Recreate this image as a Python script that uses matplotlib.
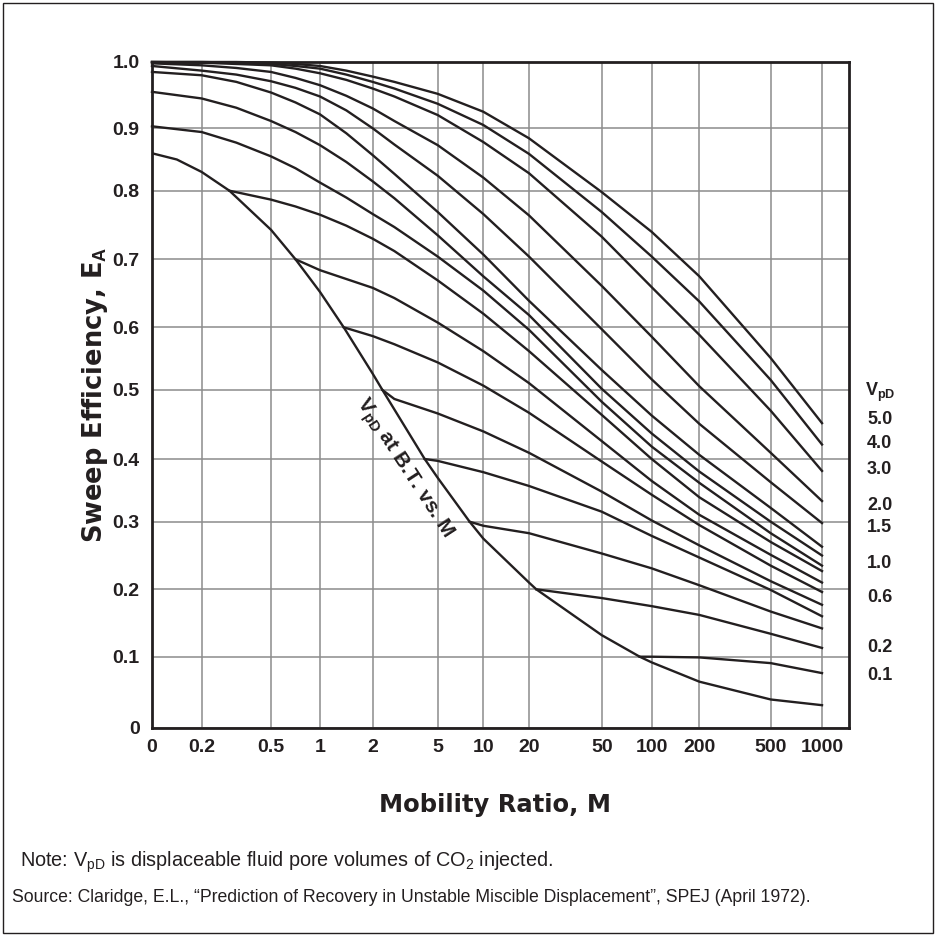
import numpy as np
import matplotlib
matplotlib.use('Agg')
import matplotlib.pyplot as plt
from matplotlib.patches import Rectangle
from matplotlib.ticker import NullLocator

plt.rcParams['font.family'] = 'Liberation Sans'
plt.rcParams['mathtext.fontset'] = 'custom'
plt.rcParams['mathtext.rm'] = 'Liberation Sans'
plt.rcParams['mathtext.bf'] = 'Liberation Sans:bold'
plt.rcParams['mathtext.it'] = 'Liberation Sans:italic'

# grid values and labels
m_ticks = [0, 0.2, 0.5, 1, 2, 5, 10, 20, 50, 100, 200, 500, 1000]
m_labels = ['0', '0.2', '0.5', '1', '2', '5', '10', '20', '50', '100', '200', '500', '1000']
e_ticks = [0, 0.1, 0.2, 0.3, 0.4, 0.5, 0.6, 0.7, 0.8, 0.9, 1.0]
e_labels = ['0', '0.1', '0.2', '0.3', '0.4', '0.5', '0.6', '0.7', '0.8', '0.9', '1.0']

# curves that start at M = 0
m_full = [0, 0.2, 0.35, 0.5, 0.75, 1, 1.5, 2, 3, 5, 10, 20, 50, 100, 200, 500, 1000]
e_50 = [1.000, 1.000, 1.000, 0.999, 0.997, 0.994, 0.987, 0.978, 0.970, 0.952, 0.925, 0.884, 0.798, 0.740, 0.675, 0.551, 0.452]
e_40 = [1.000, 1.000, 0.999, 0.997, 0.994, 0.990, 0.981, 0.970, 0.960, 0.937, 0.905, 0.859, 0.769, 0.704, 0.638, 0.516, 0.421]
e_30 = [1.000, 0.999, 0.997, 0.995, 0.990, 0.983, 0.973, 0.960, 0.948, 0.920, 0.878, 0.828, 0.733, 0.659, 0.588, 0.470, 0.381]
e_20 = [0.998, 0.995, 0.991, 0.985, 0.976, 0.965, 0.949, 0.930, 0.911, 0.873, 0.821, 0.764, 0.661, 0.585, 0.506, 0.409, 0.333]
e_15 = [0.994, 0.987, 0.981, 0.971, 0.961, 0.948, 0.927, 0.900, 0.874, 0.824, 0.766, 0.704, 0.597, 0.517, 0.451, 0.363, 0.298]
e_12 = [0.985, 0.980, 0.970, 0.954, 0.939, 0.921, 0.892, 0.857, 0.827, 0.769, 0.707, 0.639, 0.532, 0.463, 0.406, 0.322, 0.263]
e_10 = [0.955, 0.945, 0.931, 0.911, 0.894, 0.873, 0.846, 0.815, 0.789, 0.735, 0.675, 0.618, 0.502, 0.437, 0.380, 0.300, 0.250]
e_09 = [0.903, 0.894, 0.877, 0.855, 0.836, 0.813, 0.790, 0.766, 0.747, 0.704, 0.654, 0.596, 0.483, 0.418, 0.362, 0.283, 0.235]

# curves that branch off the breakthrough line (first point = breakthrough)
m_08 = [0.32, 0.5, 0.75, 1, 1.5, 2, 3, 5, 10, 20, 50, 100, 200, 500, 1000]
e_08 = [0.800, 0.787, 0.777, 0.765, 0.749, 0.730, 0.712, 0.669, 0.620, 0.562, 0.464, 0.400, 0.339, 0.270, 0.227]
m_07 = [0.75, 1, 1.5, 2, 3, 5, 10, 20, 50, 100, 200, 500, 1000]
e_07 = [0.700, 0.684, 0.671, 0.658, 0.643, 0.607, 0.562, 0.511, 0.426, 0.365, 0.311, 0.251, 0.210]
m_06 = [1.45, 2, 3, 5, 10, 20, 50, 100, 200, 500, 1000]
e_06 = [0.600, 0.586, 0.573, 0.544, 0.507, 0.467, 0.396, 0.343, 0.295, 0.235, 0.196]
m_05 = [2.45, 3, 5, 10, 20, 50, 100, 200, 500, 1000]
e_05 = [0.500, 0.487, 0.466, 0.440, 0.409, 0.348, 0.302, 0.265, 0.212, 0.177]
m_04 = [4.4, 5, 10, 20, 50, 100, 200, 500, 1000]
e_04 = [0.400, 0.397, 0.379, 0.357, 0.316, 0.279, 0.247, 0.199, 0.160]
m_03 = [8.5, 10, 20, 50, 100, 200, 500, 1000]
e_03 = [0.300, 0.294, 0.283, 0.253, 0.231, 0.206, 0.167, 0.142]
m_02 = [23, 50, 100, 200, 500, 1000]
e_02 = [0.200, 0.187, 0.175, 0.162, 0.134, 0.113]
m_01 = [88, 100, 200, 500, 1000]
e_01 = [0.100, 0.100, 0.099, 0.091, 0.077]

# V_pD at breakthrough vs M
m_bt = [0, 0.1, 0.2, 0.32, 0.5, 0.75, 1, 1.45, 2, 2.45, 4.4, 5, 8.5, 10, 20, 23, 50, 88, 100, 200, 500, 1000]
e_bt = [0.860, 0.850, 0.830, 0.800, 0.743, 0.700, 0.652, 0.600, 0.526, 0.500, 0.400, 0.370, 0.300, 0.275,
        0.210, 0.200, 0.132, 0.100, 0.092, 0.065, 0.040, 0.032]

right_labels = ['5.0', '4.0', '3.0', '2.0', '1.5', '1.0', '0.6', '0.2', '0.1']

full_curves = [e_50, e_40, e_30, e_20, e_15, e_12, e_10, e_09]
branch_curves = [(m_08, e_08), (m_07, e_07), (m_06, e_06), (m_05, e_05),
                 (m_04, e_04), (m_03, e_03), (m_02, e_02), (m_01, e_01)]

# the hand drawn grid is uneven: pixel offset of each grid line from the axes origin
grid_px_x = [0, 49.7, 119, 168, 220.7, 285.7, 331.3, 377, 449.7, 499.7, 547.3, 618.7, 670]
grid_px_y = [0, 71.3, 138.7, 206.3, 269, 338, 400.7, 468.7, 537.3, 599.7, 666]
scale_m = m_ticks + [1450]
scale_px = grid_px_x + [697]
# vertical pixel position of the right-hand labels
label_px = [420, 443, 469, 505, 528, 563, 598, 648, 675]


def xfwd(m):
    return np.interp(m, scale_m, scale_px)


def xinv(p):
    return np.interp(p, scale_px, scale_m)


def yfwd(e):
    return np.interp(e, e_ticks, grid_px_y)


def yinv(p):
    return np.interp(p, grid_px_y, e_ticks)


ink = '#231f20'
fig = plt.figure(figsize=(9.36, 9.36), dpi=100)
ax = fig.add_axes([152 / 936, 1 - 728 / 936, 697 / 936, 666 / 936])
ax.set_xscale('function', functions=(xfwd, xinv))
ax.set_yscale('function', functions=(yfwd, yinv))
ax.set_xlim(0, 1450)
ax.set_ylim(0, 1.0)

ax.set_xticks(m_ticks)
ax.set_xticklabels(m_labels, fontweight='bold')
ax.set_yticks(e_ticks)
ax.set_yticklabels(e_labels, fontweight='bold')
ax.xaxis.set_minor_locator(NullLocator())
ax.yaxis.set_minor_locator(NullLocator())
ax.tick_params(length=0, labelsize=14, colors=ink)
ax.tick_params(axis='x', pad=8)
ax.tick_params(axis='y', pad=9)
ax.grid(True, color='#8c8c8c', linewidth=1.1)
ax.set_axisbelow(True)
for s in ax.spines.values():
    s.set_linewidth(2.0)
    s.set_color(ink)
    s.set_zorder(5)

lw = 1.7
for e in full_curves:
    ax.plot(m_full, e, color=ink, lw=lw, zorder=3, clip_on=False)
for m, e in branch_curves:
    ax.plot(m, e, color=ink, lw=lw, zorder=3)
ax.plot(m_bt, e_bt, color=ink, lw=lw, zorder=3)

# right-hand V_pD labels
ax.text(713 / 697, (728 - 392) / 666, r'V$_{\mathbf{pD}}$', transform=ax.transAxes, fontsize=13,
        fontweight='bold', ha='left', va='center', color=ink)
for lab, y in zip(right_labels, label_px):
    ax.text(715 / 697, (728 - y) / 666, lab, transform=ax.transAxes, fontsize=13,
            fontweight='bold', ha='left', va='center', color=ink)

# label along the breakthrough line
ax.text((403 - 152) / 697, (728 - 468) / 666, r'V$_{\mathbf{pD}}$ at B.T. vs. M', transform=ax.transAxes,
        fontsize=15, fontweight='bold', rotation=-57, rotation_mode='anchor',
        ha='center', va='center', color=ink)

ax.set_ylabel(r'Sweep Efficiency, E$_{\mathbf{A}}$', fontsize=18.5, fontweight='bold',
              family='DejaVu Sans', color=ink)
ax.yaxis.set_label_coords(-0.082, 0.5)
ax.yaxis.label.set_va('center')
ax.set_xlabel('Mobility Ratio, M', fontsize=17.5, fontweight='bold', family='DejaVu Sans', color=ink)
ax.xaxis.set_label_coords(0.492, -0.1156)
ax.xaxis.label.set_va('center')

fig.text(20 / 936, 1 - 862 / 936, r'Note: V$_{\mathrm{pD}}$ is displaceable fluid pore volumes of CO$_2$ injected.',
         fontsize=14.3, ha='left', va='center', color=ink)
fig.text(12 / 936, 1 - 897 / 936,
         'Source: Claridge, E.L., \u201cPrediction of Recovery in Unstable Miscible Displacement\u201d, SPEJ (April 1972).',
         fontsize=12.7, ha='left', va='center', color=ink)

fig.patches.append(Rectangle((3 / 936, 3 / 936), 930 / 936, 930 / 936, transform=fig.transFigure,
                             fill=False, edgecolor=ink, linewidth=1.0))

fig.savefig('out.png', dpi=100, facecolor='white')
